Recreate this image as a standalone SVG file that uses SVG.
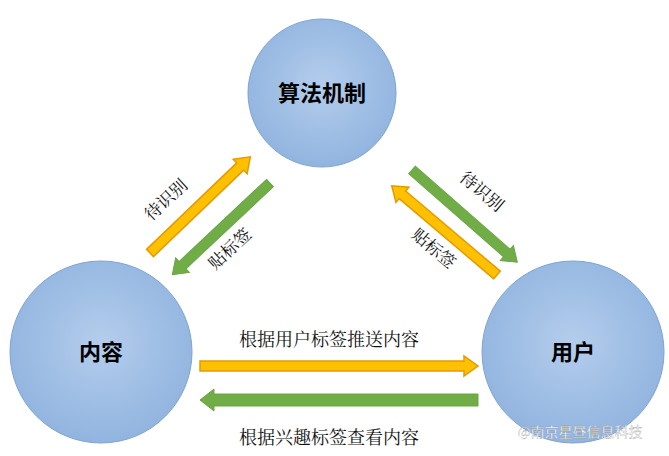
<svg xmlns="http://www.w3.org/2000/svg" width="669" height="456" viewBox="0 0 669 456">
<defs>
<radialGradient id="cg" cx="50%" cy="45%" r="60%"><stop offset="0" stop-color="#b4cdec"/><stop offset="1" stop-color="#8eb2de"/></radialGradient>
<style>
.c{fill:url(#cg);stroke:#7fa3cf;stroke-width:1}
.y{fill:#ffc000;stroke:#e39b00;stroke-width:1.5}
.g{fill:#70ad47;stroke:#6aa443;stroke-width:1}
.n{font-family:"Noto Sans CJK SC",sans-serif;font-weight:bold;font-size:22px;fill:#000;text-anchor:middle}
.l{font-family:"Noto Serif CJK SC","Noto Sans CJK SC",serif;font-size:18px;fill:#111;text-anchor:middle}
.r{font-size:17px}
</style>
</defs>
<rect width="669" height="456" fill="#fff"/>
<g id="node-algo"><circle class="c" cx="322" cy="93" r="74"/><text class="n" x="322" y="101">算法机制</text></g>
<g id="node-content"><circle class="c" cx="101" cy="352" r="91"/><text class="n" x="101" y="360">内容</text></g>
<g id="node-user"><circle class="c" cx="573" cy="352" r="91"/><text class="n" x="573" y="360">用户</text></g>
<g id="connectors">
<polygon class="y" transform="translate(150,253) rotate(-43.8)" points="0,-5 125,-5 125,-10 139,0 125,10 125,5 0,5"/>
<polygon class="g" transform="translate(270,183) rotate(136.8)" points="0,-5 120,-5 120,-10 134,0 120,10 120,5 0,5"/>
<polygon class="g" transform="translate(412,170) rotate(41.2)" points="0,-5 126,-5 126,-10 140,0 126,10 126,5 0,5"/>
<polygon class="y" transform="translate(497,275) rotate(220.3)" points="0,-5 124,-5 124,-10 138,0 124,10 124,5 0,5"/>
<polygon class="y" transform="translate(200,366)" points="0,-5 264,-5 264,-10 278,0 264,10 264,5 0,5"/>
<polygon class="g" transform="translate(478,400) rotate(180)" points="0,-6 264,-6 264,-11 278,0 264,11 264,6 0,6"/>
</g>
<text class="l r" transform="translate(170,204) rotate(-43)">待识别</text>
<text class="l r" transform="translate(234,253) rotate(-43)">贴标签</text>
<text class="l r" transform="translate(478,196) rotate(40)">待识别</text>
<text class="l r" transform="translate(430,253) rotate(40)">贴标签</text>
<text class="l" x="329" y="346">根据用户标签推送内容</text>
<text class="l" x="329" y="444">根据兴趣标签查看内容</text>
<text x="580" y="437" font-family="Noto Sans CJK SC,sans-serif" font-size="14" fill="#fff" stroke="#999" stroke-width="0.3" text-anchor="middle">@南京星昼信息科技</text>
</svg>
